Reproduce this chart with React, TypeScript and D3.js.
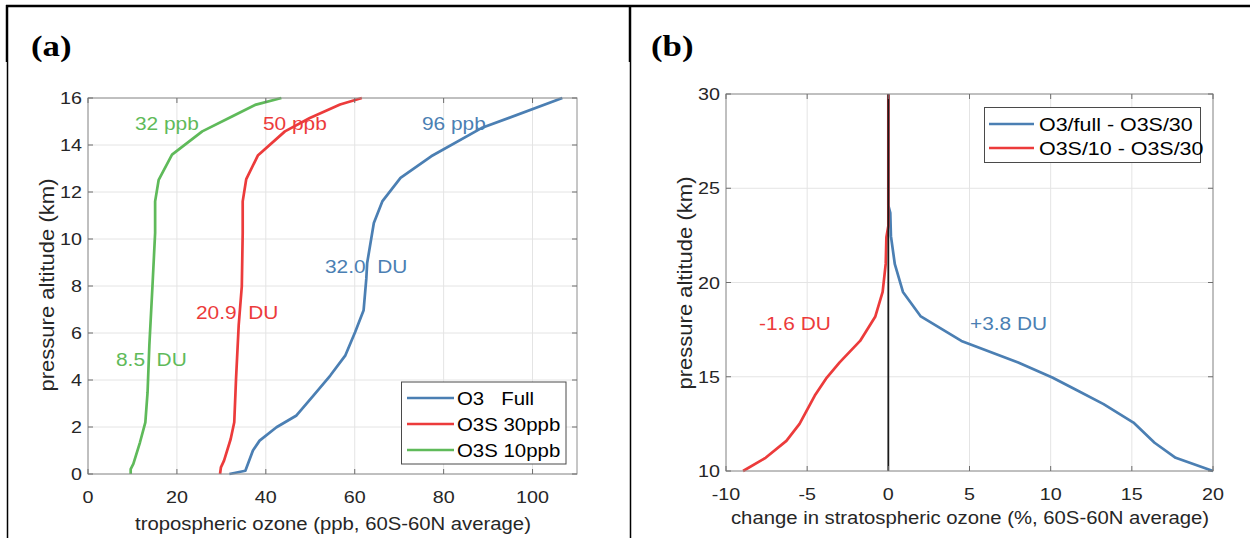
import React from "react";
import * as d3 from "d3";

// ---- panel (a): tropospheric ozone profiles, 60S-60N average ----
const fullAlt = [16, 14.72, 13.52, 12.6, 11.6, 10.68, 8.98, 8.3, 6.97, 6.04, 5.05, 4.19, 3.34, 2.49, 1.99, 1.42, 1.0, 0.14, 0];
const fullPpb = [106.7, 88.5, 77.2, 70.3, 66.2, 64.3, 62.8, 62.6, 62.0, 60.1, 57.9, 54.5, 50.7, 46.9, 42.4, 38.6, 37.1, 35.4, 31.8];

const s30Alt = [16, 15.72, 15.15, 14.58, 13.55, 12.55, 11.6, 10.26, 7.99, 6.33, 4.05, 2.2, 1.49, 0.57, 0.28, 0];
const s30Ppb = [61.6, 56.7, 49.9, 44.3, 38.2, 35.6, 34.8, 34.8, 34.6, 33.9, 33.3, 32.9, 32.1, 30.6, 29.9, 29.7];

const s10Alt = [16, 15.72, 15.22, 14.58, 13.59, 12.52, 11.6, 10.26, 7.99, 5.47, 3.48, 2.2, 1.35, 0.43, 0.21, 0];
const s10Ppb = [43.5, 37.8, 32.5, 25.7, 18.9, 15.9, 15.1, 15.1, 14.5, 13.8, 13.4, 12.9, 11.7, 10.2, 9.6, 9.6];

// ---- panel (b): change in stratospheric ozone (%) ----
const dFullAlt = [30, 24.1, 23.7, 22.46, 20.97, 19.5, 18.2, 16.9, 15.76, 14.96, 14.34, 13.55, 12.57, 11.5, 10.7, 10];
const dFullPct = [0, 0, 0.12, 0.16, 0.4, 0.9, 2.0, 4.5, 8.0, 10.1, 11.5, 13.26, 15.1, 16.4, 17.7, 20];

const d10Alt = [30, 23, 22.4, 21, 19.5, 18.2, 16.9, 15.76, 14.9, 14.0, 12.5, 11.6, 10.7, 10];
const d10Pct = [0, 0, -0.12, -0.16, -0.35, -0.8, -1.74, -3.0, -3.84, -4.53, -5.47, -6.28, -7.56, -8.95];

const aTicksX = [0, 20, 40, 60, 80, 100];
const aTicksY = [0, 2, 4, 6, 8, 10, 12, 14, 16];
const bTicksX = [-10, -5, 0, 5, 10, 15, 20];
const bTicksY = [10, 15, 20, 25, 30];

const legendA = ["O3   Full", "O3S 30ppb", "O3S 10ppb"];
const legendB = ["O3/full - O3S/30", "O3S/10 - O3S/30"];

const BLUE = "#4b7fb3";
const RED = "#ec3b3b";
const GREEN = "#5fba5a";
const SX = 1.16; // the figure is a bit wider than it is tall
const FONT = "'Liberation Sans', Arial, Helvetica, sans-serif";

function T({ x, y, size, fill = "#262626", anchor = "start", rot = false, weight = "normal", family = FONT, children }: any) {
  // rotated labels: stretch along their length instead
  const tr = rot ? `translate(${x},${y}) rotate(-90) scale(1.13,1)` : `translate(${x},${y}) scale(${SX},1)`;
  return (
    <text transform={tr} fontSize={size} fill={fill} textAnchor={anchor} fontFamily={family} fontWeight={weight} xmlSpace="preserve">
      {children}
    </text>
  );
}

function Grid({ x, y, xt, yt }: any) {
  const [x0, x1] = x.range();
  const [y0, y1] = y.range();
  return (
    <g>
      {xt.map((t: number) => (
        <line key={"gx" + t} x1={x(t)} x2={x(t)} y1={y0} y2={y1} stroke="#e4e4e4" />
      ))}
      {yt.map((t: number) => (
        <line key={"gy" + t} x1={x0} x2={x1} y1={y(t)} y2={y(t)} stroke="#e4e4e4" />
      ))}
    </g>
  );
}

function Frame({ x, y, xt, yt }: any) {
  const [x0, x1] = x.range();
  const [y0, y1] = y.range();
  const tl = 5;
  return (
    <g>
      <rect x={x0} y={y1} width={x1 - x0} height={y0 - y1} fill="none" stroke="#8e8e8e" />
      {xt.map((t: number) => (
        <g key={"tx" + t}>
          <line x1={x(t)} x2={x(t)} y1={y0} y2={y0 - tl} stroke="#6e6e6e" />
          <line x1={x(t)} x2={x(t)} y1={y1} y2={y1 + tl} stroke="#6e6e6e" />
        </g>
      ))}
      {yt.map((t: number) => (
        <g key={"ty" + t}>
          <line x1={x0} x2={x0 + tl} y1={y(t)} y2={y(t)} stroke="#6e6e6e" />
          <line x1={x1} x2={x1 - tl} y1={y(t)} y2={y(t)} stroke="#6e6e6e" />
        </g>
      ))}
      {xt.map((t: number) => (
        <T key={"lx" + t} x={x(t)} y={y0 + 29} size={17} anchor="middle">
          {t}
        </T>
      ))}
      {yt.map((t: number) => (
        <T key={"ly" + t} x={x0 - 6} y={y(t) + 6} size={17} anchor="end">
          {t}
        </T>
      ))}
    </g>
  );
}

export default function App() {
  const W = 1250;
  const H = 538;

  const xa = d3.scaleLinear().domain([0, 110]).range([88, 577]);
  const ya = d3.scaleLinear().domain([0, 16]).range([474, 98]);
  const xb = d3.scaleLinear().domain([-10, 20]).range([726, 1213]);
  const yb = d3.scaleLinear().domain([10, 30]).range([471, 94]);

  const lineA = (vals: number[], alts: number[]) =>
    d3.line<number>().x((v) => xa(v)).y((_, i) => ya(alts[i]))(vals) as string;
  const lineB = (vals: number[], alts: number[]) =>
    d3.line<number>().x((v) => xb(v)).y((_, i) => yb(alts[i]))(vals) as string;

  const colsA = [BLUE, RED, GREEN];
  const colsB = [BLUE, RED];

  return (
    <svg width={W} height={H} style={{ position: "absolute", left: 0, top: 0, background: "#fff" }}>
      <rect width={W} height={H} fill="#fff" />

      {/* outer frame */}
      <line x1={6} x2={W} y1={6} y2={6} stroke="#000" strokeWidth={2.5} />
      <line x1={7} x2={7} y1={5} y2={62} stroke="#000" strokeWidth={2.5} />
      <line x1={7.5} x2={7.5} y1={62} y2={H} stroke="#000" strokeWidth={1.5} />
      <line x1={630} x2={630} y1={5} y2={62} stroke="#000" strokeWidth={2.5} />
      <line x1={630.5} x2={630.5} y1={62} y2={H} stroke="#000" strokeWidth={1.5} />

      <T x={31} y={56} size={30} fill="#000" weight="bold" family="'Liberation Serif', 'Times New Roman', serif">(a)</T>
      <T x={651} y={56} size={30} fill="#000" weight="bold" family="'Liberation Serif', 'Times New Roman', serif">(b)</T>

      {/* panel (a) */}
      <Grid x={xa} y={ya} xt={aTicksX} yt={aTicksY} />
      <path d={lineA(fullPpb, fullAlt)} fill="none" stroke={BLUE} strokeWidth={2.7} strokeLinejoin="round" />
      <path d={lineA(s30Ppb, s30Alt)} fill="none" stroke={RED} strokeWidth={2.7} strokeLinejoin="round" />
      <path d={lineA(s10Ppb, s10Alt)} fill="none" stroke={GREEN} strokeWidth={2.7} strokeLinejoin="round" />
      <Frame x={xa} y={ya} xt={aTicksX} yt={aTicksY} />

      <T x={135} y={130} size={18} fill={GREEN}>32 ppb</T>
      <T x={263} y={130} size={18} fill={RED}>50 ppb</T>
      <T x={422} y={130} size={18} fill={BLUE}>96 ppb</T>
      <T x={325} y={273} size={18} fill={BLUE}>32.0  DU</T>
      <T x={196} y={319} size={18} fill={RED}>20.9  DU</T>
      <T x={116} y={366} size={18} fill={GREEN}>8.5  DU</T>

      <g>
        <rect x={401.5} y={382} width={164.5} height={82} fill="#fff" stroke="#4a4a4a" />
        {legendA.map((s, i) => (
          <g key={s}>
            <line x1={407} x2={454} y1={398 + i * 26} y2={398 + i * 26} stroke={colsA[i]} strokeWidth={2.7} />
            <T x={457} y={404.5 + i * 26} size={17.6} fill="#000">{s}</T>
          </g>
        ))}
      </g>

      <T x={333} y={530} size={17.5} anchor="middle">tropospheric ozone (ppb, 60S-60N average)</T>
      <T x={54} y={285} size={19.5} anchor="middle" rot>pressure altitude (km)</T>

      {/* panel (b) */}
      <Grid x={xb} y={yb} xt={bTicksX} yt={bTicksY} />
      <path d={lineB(dFullPct, dFullAlt)} fill="none" stroke={BLUE} strokeWidth={2.7} strokeLinejoin="round" />
      <path d={lineB(d10Pct, d10Alt)} fill="none" stroke={RED} strokeWidth={2.7} strokeLinejoin="round" />
      <line x1={xb(0)} x2={xb(0)} y1={yb(10)} y2={yb(30)} stroke="#1a1a1a" strokeWidth={1.8} />
      <Frame x={xb} y={yb} xt={bTicksX} yt={bTicksY} />

      <T x={759} y={330} size={18} fill={RED}>-1.6 DU</T>
      <T x={970} y={330} size={18} fill={BLUE}>+3.8 DU</T>

      <g>
        <rect x={984.5} y={107.5} width={216} height={55} fill="#fff" stroke="#4a4a4a" />
        {legendB.map((s, i) => (
          <g key={s}>
            <line x1={989} x2={1034} y1={124 + i * 24} y2={124 + i * 24} stroke={colsB[i]} strokeWidth={2.7} />
            <T x={1039} y={130.5 + i * 24} size={18.5} fill="#000">{s}</T>
          </g>
        ))}
      </g>

      <T x={970} y={524} size={17.5} anchor="middle">change in stratospheric ozone (%, 60S-60N average)</T>
      <T x={692} y={283} size={19.5} anchor="middle" rot>pressure altitude (km)</T>
    </svg>
  );
}
